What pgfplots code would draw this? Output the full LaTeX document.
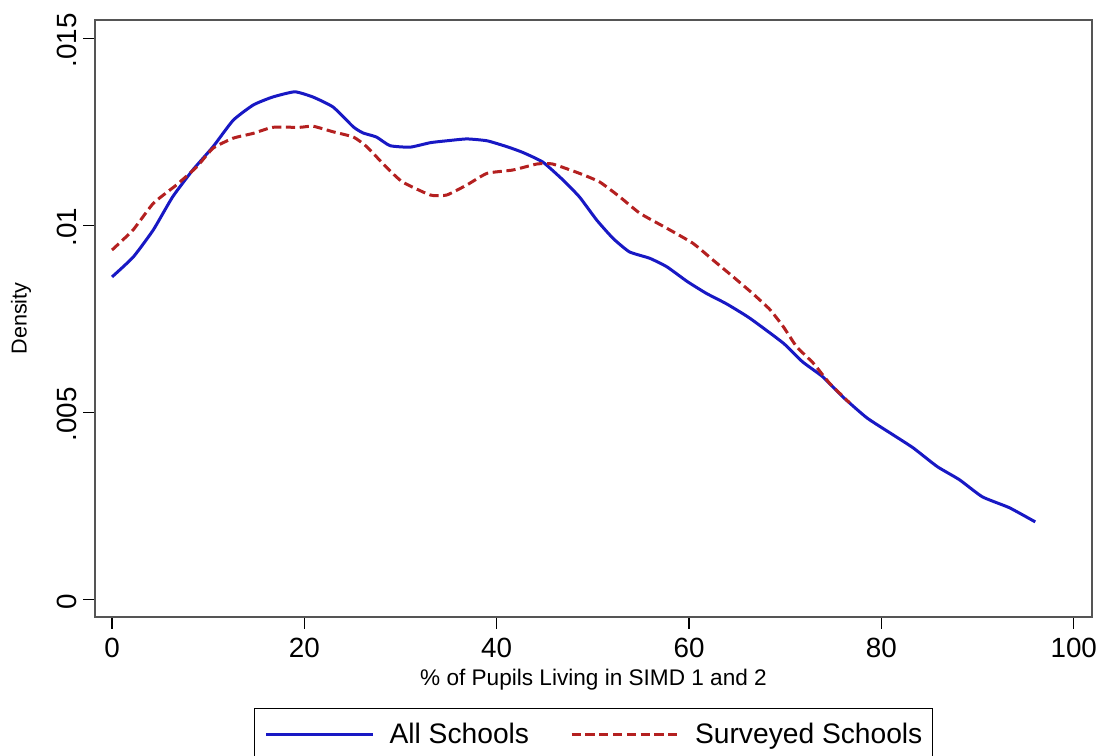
\documentclass[border=0pt]{standalone}
\usepackage{fontspec}
\setmainfont{Liberation Sans}
\usepackage{pgfplots}
\pgfplotsset{compat=1.18}
\definecolor{allblue}{RGB}{24,24,196}
\definecolor{survred}{RGB}{180,32,32}
\definecolor{framegray}{RGB}{85,85,85}

\begin{document}
\begin{tikzpicture}
% page = 1102x755 px at 0.5pt per px, axis box from (95,20) to (1092,617)
\path[use as bounding box] (-47.5pt,-69pt) rectangle (503.5pt,308.5pt);
\begin{axis}[
 at={(0pt,0pt)},anchor=south west,
 scale only axis,
 width=498.5pt,height=298.5pt,
 xmin=-1.77,xmax=101.9,
 ymin=-0.000473,ymax=0.01549,
 xtick={0,20,40,60,80,100},
 xticklabels={0,20,40,60,80,100},
 ytick={0,0.005,0.01,0.015},
 yticklabels={0,.005,.01,.015},
 scaled y ticks=false,
 tick align=outside,
 major tick length=5.8pt,
 xtick pos=bottom, ytick pos=left,
 axis line style={framegray,line width=0.8pt},
 tick style={black,line width=0.7pt},
 tick label style={font=\fontsize{13.9}{15}\selectfont},
 xticklabel style={yshift=-1pt},
 yticklabel style={rotate=90,anchor=south,xshift=-1pt},
 xlabel={\% of Pupils Living in SIMD 1 and 2},
 ylabel={Density},
 every axis x label/.style={at={(rel axis cs:0.5,0)},yshift=-31.5pt,anchor=center,font=\fontsize{11.3}{12}\selectfont},
 every axis y label/.style={at={(rel axis cs:0,0.5)},xshift=-37pt,rotate=90,anchor=center,font=\fontsize{10.8}{12}\selectfont},
 legend columns=2,
 legend style={at={(rel axis cs:0.5,-0.1524)},anchor=north,draw=black,line width=0.6pt,
   font=\fontsize{14.1}{15}\selectfont,inner xsep=5pt,inner ysep=7pt,
   nodes={inner sep=0pt},
   /tikz/every odd column/.append style={column sep=7.5pt},
   /tikz/every even column/.append style={column sep=20.5pt}},
 legend image code/.code={\draw[#1] (0pt,0pt) -- (53.5pt,0pt);},
 ]
\addplot[allblue,line width=1.5pt,smooth,tension=0.3] coordinates {
(0,0.00862) (2.2,0.00915) (4.3,0.00988) (6.3,0.01076) (8.4,0.01148)
(10.5,0.0121) (12.6,0.01281) (14.7,0.01322) (16.7,0.01343) (19.0,0.01357)
(20.9,0.01343) (23.0,0.01316) (25.1,0.01263) (26.1,0.01247) (27.5,0.01236)
(28.9,0.01213) (31.0,0.01209) (33.1,0.01221) (34.8,0.01226) (36.9,0.01231)
(39.0,0.01226) (41.1,0.0121) (42.7,0.01195) (44.8,0.01169) (46.9,0.01121)
(48.6,0.01076) (50.4,0.01014) (52.1,0.00965) (53.8,0.00929) (55.9,0.00912)
(57.7,0.00889) (59.8,0.0085) (61.8,0.00818) (63.9,0.0079) (66.3,0.00752)
(69.8,0.00685) (71.8,0.00635) (73.9,0.00595) (76.0,0.00541) (78.5,0.00485)
(81.2,0.0044) (83.3,0.00405) (85.8,0.00355) (88.1,0.0032) (90.5,0.00274)
(93.3,0.00245) (96.0,0.00207)};
\addlegendentry{All Schools}
\addplot[survred,line width=1.5pt,dash pattern=on 4.6pt off 2.3pt,smooth,tension=0.3] coordinates {
(0,0.00934) (2.2,0.00988) (4.3,0.01059) (6.7,0.01108) (8.8,0.01156)
(10.5,0.01206) (12.6,0.01233) (14.7,0.01246) (16.7,0.01262) (19.5,0.01262)
(20.9,0.01265) (23.0,0.0125) (25.1,0.01236) (26.5,0.0121) (28.5,0.01156)
(30.2,0.01116) (33.1,0.01081) (34.8,0.01081) (36.9,0.01108) (39.0,0.01139)
(41.7,0.01148) (44.2,0.01164) (45.8,0.01164) (48.6,0.01139) (50.7,0.01116)
(52.8,0.01076) (54.9,0.01032) (57.7,0.00992) (60.4,0.00952) (62.5,0.00907)
(64.6,0.00862) (66.6,0.00818) (68.4,0.00775) (69.8,0.00729) (71.2,0.00675)
(72.9,0.00632) (74.6,0.00578) (76.7,0.00525)};
\addlegendentry{Surveyed Schools\hspace{3pt}}
\end{axis}
\end{tikzpicture}
\end{document}
